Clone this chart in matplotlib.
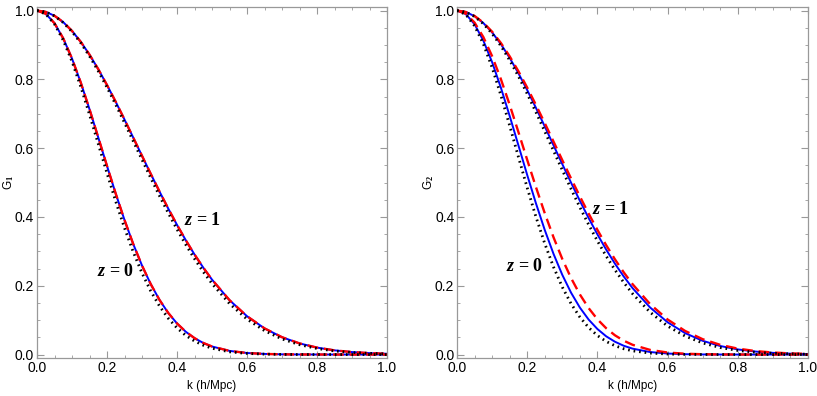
import matplotlib
matplotlib.use("Agg")
import matplotlib.pyplot as plt
from matplotlib.ticker import MultipleLocator

plt.rcParams['font.family'] = ['Liberation Sans', 'DejaVu Sans']
plt.rcParams['mathtext.fontset'] = 'custom'
plt.rcParams['mathtext.it'] = 'Liberation Serif:italic:bold'
plt.rcParams['mathtext.rm'] = 'Liberation Serif:bold'

# wavenumber grid (h/Mpc)
k = [0.0, 0.025, 0.05, 0.075, 0.1, 0.125, 0.15, 0.175, 0.2, 0.225, 0.25,
     0.275, 0.3, 0.325, 0.35, 0.375, 0.4, 0.425, 0.45, 0.475, 0.5,
     0.55, 0.6, 0.65, 0.7, 0.75, 0.8, 0.85, 0.9, 0.95, 1.0]

# ---- G1 (left panel) ----
g1_z0_solid = [1.0, .9907, .9631, .9190, .8605, .7908, .7132, .6312, .5483, .4674, .3911,
               .3211, .2587, .2046, .1588, .1209, .0904, .0663, .0477, .0337, .0234,
               .0106, .0045, .0018, .0006, .0002, .0001, 0, 0, 0, 0]
g1_z0_dashed = [1.0, .9907, .9631, .9190, .8605, .7908, .7132, .6312, .5483, .4674, .3911,
                .3211, .2587, .2046, .1588, .1209, .0904, .0663, .0477, .0337, .0234,
                .0106, .0045, .0018, .0006, .0002, .0001, 0, 0, 0, 0]
g1_z0_dotted = [1.0, .9900, .9608, .9139, .8521, .7788, .6977, .6126, .5273, .4449, .3679,
                .2982, .2369, .1845, .1409, .1054, .0773, .0556, .0392, .0271, .0183,
                .0079, .0032, .0012, .0004, .0001, 0, 0, 0, 0, 0]
g1_z1_solid = [1.0, .9962, .9849, .9663, .9408, .9091, .8718, .8297, .7835, .7345, .6832,
               .6306, .5777, .5252, .4739, .4243, .3770, .3325, .2909, .2527, .2178,
               .1581, .1114, .0761, .0504, .0324, .0202, .0122, .0072, .0041, .0023]
g1_z1_dashed = [1.0, .9962, .9849, .9663, .9408, .9091, .8718, .8297, .7835, .7345, .6832,
                .6306, .5777, .5252, .4739, .4243, .3770, .3325, .2909, .2527, .2178,
                .1581, .1114, .0761, .0504, .0324, .0202, .0122, .0072, .0041, .0023]
g1_z1_dotted = [1.0, .9961, .9843, .9651, .9388, .9061, .8676, .8242, .7768, .7265, .6740,
                .6204, .5666, .5134, .4614, .4116, .3642, .3197, .2785, .2406, .2063,
                .1481, .1030, .0694, .0453, .0287, .0176, .0105, .0060, .0034, .0018]

# ---- G2 (right panel) ----
g2_z0_solid = [1.0, .9899, .9602, .9126, .8499, .7757, .6936, .6078, .5218, .4391, .3620,
               .2924, .2315, .1796, .1365, .1016, .0742, .0530, .0372, .0255, .0172,
               .0073, .0029, .0010, .0003, .0001, 0, 0, 0, 0, 0]
g2_z0_dashed = [1.0, .9911, .9650, .9230, .8673, .8005, .7259, .6465, .5657, .4863, .4107,
                .3406, .2776, .2222, .1747, .1350, .1024, .0764, .0559, .0402, .0284,
                .0135, .0059, .0024, .0009, .0003, .0001, 0, 0, 0, 0]
g2_z0_dotted = [1.0, .9887, .9557, .9031, .8344, .7536, .6654, .5743, .4847, .3998, .3225,
                .2543, .1960, .1477, .1088, .0784, .0552, .0380, .0256, .0168, .0108,
                .0042, .0015, .0005, .0001, 0, 0, 0, 0, 0, 0]
g2_z1_solid = [1.0, .9959, .9837, .9637, .9364, .9024, .8625, .8176, .7688, .7169, .6631,
               .6082, .5534, .4994, .4469, .3967, .3493, .3050, .2641, .2269, .1933,
               .1369, .0938, .0622, .0399, .0248, .0149, .0087, .0049, .0026, .0014]
g2_z1_dashed = [1.0, .9960, .9843, .9649, .9385, .9057, .8669, .8234, .7759, .7253, .6726,
                .6189, .5650, .5116, .4597, .4097, .3623, .3179, .2767, .2389, .2047,
                .1467, .1019, .0685, .0446, .0282, .0172, .0102, .0059, .0033, .0018]
g2_z1_dotted = [1.0, .9957, .9828, .9618, .9331, .8974, .8557, .8089, .7581, .7043, .6487,
                .5923, .5362, .4812, .4281, .3777, .3302, .2862, .2460, .2096, .1770,
                .1231, .0827, .0536, .0336, .0203, .0119, .0067, .0037, .0019, .0010]

panels = [
    ("G$_1$", [(g1_z0_solid, g1_z0_dashed, g1_z0_dotted), (g1_z1_solid, g1_z1_dashed, g1_z1_dotted)],
     [(0.223, 0.24, "0"), (0.474, 0.391, "1")]),
    ("G$_2$", [(g2_z0_solid, g2_z0_dashed, g2_z0_dotted), (g2_z1_solid, g2_z1_dashed, g2_z1_dotted)],
     [(0.192, 0.255, "0"), (0.437, 0.423, "1")]),
]

fig = plt.figure(figsize=(8.17, 3.96), dpi=100)
ax_pos = [[0.0453, 0.096, 0.4284, 0.886], [0.5594, 0.096, 0.4296, 0.886]]

for pos, (ylab, curves, labels) in zip(ax_pos, panels):
    ax = fig.add_axes(pos)
    for solid, dashed, dotted in curves:
        ax.plot(k, solid, color='blue', lw=1.4, zorder=2)
        ax.plot(k, dashed, color='red', lw=1.7, ls=(0, (4.5, 2.5)), zorder=3)
        ax.plot(k, dotted, color='black', lw=2.0, ls=(0, (0.6, 1.4)), zorder=4)
    for x, y, zval in labels:
        ax.text(x, y, r"$z$ = " + zval, fontsize=13, fontweight='bold',
                family='Liberation Serif', ha='center', va='center')
    ax.set_xlim(0, 1.0)
    ax.set_ylim(-0.01, 1.01)
    ax.xaxis.set_major_locator(MultipleLocator(0.2))
    ax.xaxis.set_minor_locator(MultipleLocator(0.05))
    ax.yaxis.set_major_locator(MultipleLocator(0.2))
    ax.yaxis.set_minor_locator(MultipleLocator(0.05))
    ax.xaxis.set_major_formatter(lambda v, p: f"{v:.1f}")
    ax.yaxis.set_major_formatter(lambda v, p: f"{v:.1f}")
    ax.tick_params(which='both', direction='in', top=True, right=True,
                   color='#999999', labelsize=10, pad=2)
    ax.tick_params(which='major', length=5, width=0.8)
    ax.tick_params(which='minor', length=2.5, width=0.6)
    for sp in ax.spines.values():
        sp.set_color('#999999')
        sp.set_linewidth(0.9)
    ax.set_xlabel("k (h/Mpc)", fontsize=8.5, labelpad=4)
    ax.set_ylabel(ylab, fontsize=8.5)
    ax.yaxis.set_label_coords(-0.06, 0.5)

fig.savefig("out.png", dpi=100)
